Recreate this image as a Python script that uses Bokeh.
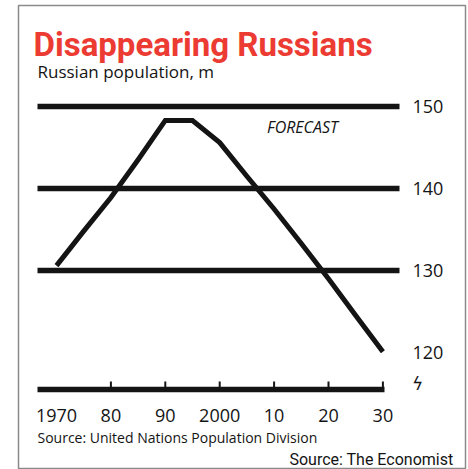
from bokeh.plotting import figure
from bokeh.models import Range1d
from bokeh.core.properties import value
from bokeh.embed import file_html
from bokeh.resources import INLINE

# ---- data ----
years = [1970, 1975, 1980, 1985, 1990, 1995, 2000, 2005, 2010, 2015, 2020, 2025, 2030]
population = [130.6, 134.8, 138.9, 143.5, 148.3, 148.3, 145.6, 141.5, 137.5, 133.3, 129.0, 124.5, 120.1]
grid_values = [130, 140, 150]
y_tick_values = [150, 140, 130, 120]
y_tick_labels = ["150", "140", "130", "120"]
x_tick_years = [1970, 1980, 1990, 2000, 2010, 2020, 2030]
x_tick_labels = ["1970", "80", "90", "2000", "10", "20", "30"]
title_text = "Disappearing Russians"
subtitle_text = "Russian population, m"
forecast_text = "FORECAST"
source1_text = "Source: United Nations Population Division"
source2_text = "Source: The Economist"

# ---- pixel <-> data helpers (layout only) ----
W, H = 468, 469
FL, FR, FT, FB = 18, 465, 5, 469  # frame edges in pixels
def xd(px):
    return 1970 + (px - 56) / 5.44
def yd(py):
    return 130 + (270 - py) / 8.2

p = figure(width=W, height=H, output_backend="svg", toolbar_location=None,
           x_range=Range1d(xd(FL), xd(FR)), y_range=Range1d(yd(FB), yd(FT)),
           min_border_left=FL, min_border_right=W - FR, min_border_top=FT, min_border_bottom=0)
p.axis.visible = False
p.xgrid.visible = False
p.ygrid.visible = False
p.outline_line_color = "#8a8a8a"
p.outline_line_width = 1.5
p.background_fill_color = "white"
p.border_fill_color = "white"

INK = "#141414"
COND = "Roboto"

# gridlines
p.segment(x0=[xd(37)] * len(grid_values), x1=[xd(399)] * len(grid_values),
          y0=grid_values, y1=grid_values, line_color=INK, line_width=5.5)

# population line
p.line(years, population, line_color=INK, line_width=5, line_join="miter")

# baseline and ticks
p.segment(x0=[xd(37)], x1=[xd(384)], y0=[yd(389)], y1=[yd(389)], line_color=INK, line_width=5.5)
tick_years = x_tick_years[1:]
p.segment(x0=tick_years, x1=tick_years, y0=[yd(389)] * len(tick_years), y1=[yd(381)] * len(tick_years),
          line_color=INK, line_width=2)

# right-side value labels
p.text(x=[xd(412)] * len(y_tick_values), y=y_tick_values, text=y_tick_labels,
       text_font=value("Open Sans"), text_font_size="18px", text_color=INK,
       text_align="left", text_baseline="middle")
# axis-break mark
p.text(x=[xd(417)], y=[yd(383)], text=["ϟ"], text_font=value("DejaVu Sans"),
       text_font_style="italic", text_font_size="17px", text_color=INK,
       text_align="center", text_baseline="middle")

# bottom year labels
p.text(x=x_tick_years, y=[yd(415)] * len(x_tick_years), text=x_tick_labels,
       text_font=value("Open Sans"), text_font_size="18px", text_color=INK,
       text_align="center", text_baseline="middle")

# forecast label
p.text(x=[xd(302)], y=[yd(126)], text=[forecast_text], text_font=value("Open Sans"),
       text_font_style="italic", text_font_size="16px", text_color=INK,
       text_align="center", text_baseline="middle")

# title and subtitle
p.text(x=[xd(33)], y=[yd(44)], text=[title_text], text_font=value(COND),
       text_font_style="bold", text_font_size="33px", text_color="#ec3b32",
       text_align="left", text_baseline="alphabetic")
p.text(x=[xd(37)], y=[yd(71)], text=[subtitle_text], text_font=value("Open Sans"),
       text_font_size="17px", text_color=INK, text_align="left", text_baseline="middle")

# sources
p.text(x=[xd(37)], y=[yd(437)], text=[source1_text], text_font=value("Open Sans"),
       text_font_size="14px", text_color=INK, text_align="left", text_baseline="middle")
p.text(x=[xd(453)], y=[yd(459)], text=[source2_text], text_font=value(COND),
       text_font_size="16px", text_color=INK, text_align="right", text_baseline="middle")

open("out.html", "w").write(file_html(p, INLINE))
